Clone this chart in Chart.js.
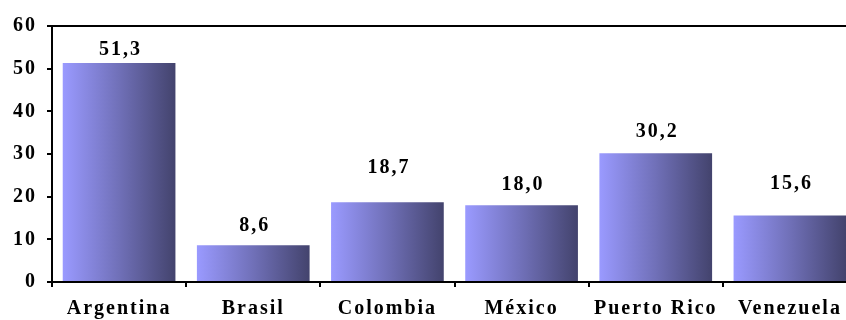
<!DOCTYPE html>
<html>
<head>
<meta charset="utf-8">
<script src="https://cdn.jsdelivr.net/npm/chart.js@4/dist/chart.umd.min.js"></script>
<style>
  html, body { margin: 0; padding: 0; background: #fff; overflow: hidden; }
  #wrap { width: 857px; height: 320px; }
</style>
</head>
<body>
<div id="wrap"><canvas id="chart"></canvas></div>
<script>
// datos
const paises = ['Argentina', 'Brasil', 'Colombia', 'México', 'Puerto Rico', 'Venezuela'];
const valores = [51.3, 8.6, 18.7, 18.0, 30.2, 15.6];
const yTicks = [0, 10, 20, 30, 40, 50, 60];

// distancia (px) entre la etiqueta y el tope de cada barra, como en el original
const labelGap = [8, 14, 29, 15, 16, 26];
const BAR_PCT = 0.84;
const FONT = "'Liberation Serif', 'Times New Roman', serif";

Chart.defaults.font.family = FONT;
Chart.defaults.color = '#000';

// texto algo espaciado, como el original
const spacing = {
    id: 'spacing',
    beforeUpdate(chart) { chart.ctx.letterSpacing = '2px'; },
    beforeDraw(chart) { chart.ctx.letterSpacing = '2px'; }
};

// etiquetas de valor sobre las barras
const valueLabels = {
    id: 'valueLabels',
    afterDatasetsDraw(chart) {
        const ctx = chart.ctx;
        const meta = chart.getDatasetMeta(0);
        ctx.save();
        ctx.font = 'bold 20px ' + FONT;
        ctx.fillStyle = '#000';
        ctx.textAlign = 'center';
        ctx.textBaseline = 'alphabetic';
        meta.data.forEach((bar, i) => {
            const txt = valores[i].toFixed(1).replace('.', ',');
            ctx.fillText(txt, bar.x + 1.5, bar.y - labelGap[i]);
        });
        ctx.restore();
    }
};

// degradado horizontal por barra
function barGradient(c) {
    const chart = c.chart;
    if (!chart.chartArea) return '#7777cc';
    const xs = chart.scales.x;
    const cx = xs.getPixelForValue(c.dataIndex);
    const half = xs.width / paises.length * BAR_PCT / 2;
    const g = chart.ctx.createLinearGradient(cx - half, 0, cx + half, 0);
    g.addColorStop(0, '#9a9aff');
    g.addColorStop(0.5, '#7070b8');
    g.addColorStop(1, '#43436d');
    return g;
}

new Chart(document.getElementById('chart'), {
    type: 'bar',
    data: {
        labels: paises,
        datasets: [{
            data: valores,
            backgroundColor: barGradient,
            borderWidth: 0,
            barPercentage: BAR_PCT,
            categoryPercentage: 1
        }]
    },
    options: {
        responsive: true,
        maintainAspectRatio: false,
        animation: false,
        layout: { padding: { top: 26, left: 0, right: 0, bottom: 0 } },
        plugins: {
            legend: { display: false },
            tooltip: { enabled: false }
        },
        scales: {
            x: {
                afterFit: s => { s.height = 38; },
                grid: {
                    drawOnChartArea: false,
                    color: '#000',
                    lineWidth: 2,
                    tickLength: 5
                },
                border: { color: '#000', width: 2 },
                ticks: {
                    padding: 11,
                    font: { size: 20, weight: 'bold', lineHeight: 1.1 },
                    maxRotation: 0,
                    autoSkip: false
                }
            },
            y: {
                min: 0,
                max: 60,
                afterFit: s => { s.width = 52; },
                afterBuildTicks: s => { s.ticks = yTicks.map(v => ({ value: v })); },
                grid: {
                    color: c => (c.tick && c.tick.value === 60 ? '#000' : 'rgba(0,0,0,0)'),
                    tickColor: '#000',
                    lineWidth: 2,
                    tickLength: 5
                },
                border: { color: '#000', width: 2 },
                ticks: {
                    padding: 10,
                    font: { size: 20, weight: 'bold' }
                }
            }
        }
    },
    plugins: [spacing, valueLabels]
});
</script>
</body>
</html>
